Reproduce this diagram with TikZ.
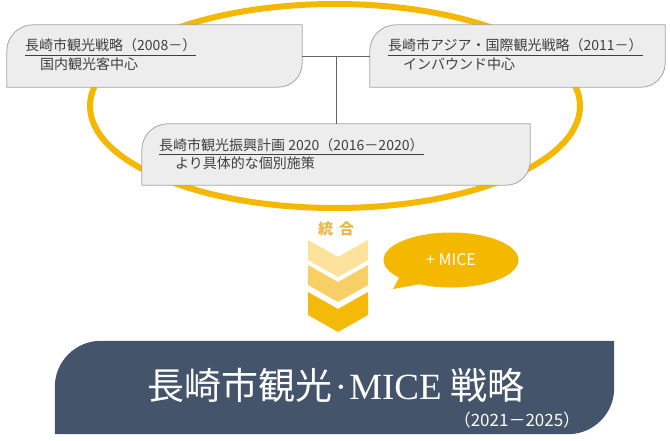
\documentclass[tikz,border=0pt]{standalone}
\usepackage{fontspec}
\newfontfamily\jp{Noto Sans CJK JP}
\newfontfamily\serifen{Liberation Serif}
\usetikzlibrary{calc,shapes.callouts}
\definecolor{gold}{HTML}{F5B800}
\definecolor{chevA}{HTML}{FCE29A}
\definecolor{chevB}{HTML}{F8CF66}
\definecolor{chevC}{HTML}{F5B90A}
\definecolor{boxfill}{HTML}{EDEDED}
\definecolor{boxline}{HTML}{A5A5A5}
\definecolor{txt}{HTML}{3F3F3F}
\definecolor{slate}{HTML}{44546A}
\definecolor{togo}{HTML}{E9B64A}
\newcommand\leafpath[4]{%
  \path[#4] (#1.south west) -- ($(#1.north west)+(0,#2)$)
    .. controls ($(#1.north west)+(0,0.45*#2)$) and ($(#1.north west)+(0.45*#2,0)$) .. ($(#1.north west)+(#2,0)$)
    -- (#1.north east) -- ($(#1.south east)+(0,-#3)$)
    .. controls ($(#1.south east)+(0,-0.45*#3)$) and ($(#1.south east)+(-0.45*#3,0)$) .. ($(#1.south east)+(-#3,0)$)
    -- cycle;}
\newcommand\chevron[3]{%
  \fill[#3] (308,#1) -- (338,#1+17) -- (368,#1) -- (368,#1+#2) -- (338,#1+#2+17) -- (308,#1+#2) -- cycle;}
\tikzset{
  boxnode/.style={rectangle, inner sep=0pt, draw=none},
  leaf/.style={fill=boxfill, draw=boxline, line width=0.8pt},
  lbl/.style={inner sep=0pt, anchor=base west, text=txt, font=\jp\fontsize{14pt}{16pt}\selectfont},
  ul/.style={draw=txt, line width=0.7pt},
  conn/.style={draw=txt!80, line width=0.8pt},
}
\begin{document}
\begin{tikzpicture}[x=1pt,y=-1pt]
\useasboundingbox (0,0) rectangle (670,440);
% ellipse
\draw[gold, line width=6pt] (335,106) ellipse [x radius=245pt, y radius=102pt];
% boxes
\node[boxnode, minimum width=295pt, minimum height=62pt] (b1) at (154.5,56) {};
\node[boxnode, minimum width=295pt, minimum height=62pt] (b2) at (517.5,56) {};
\node[boxnode, minimum width=388pt, minimum height=61pt] (b3) at (336,154.5) {};
\leafpath{b1}{26}{24}{leaf}
\leafpath{b2}{26}{24}{leaf}
\leafpath{b3}{26}{24}{leaf}
% connectors
\coordinate (j) at ($(b1.east)!0.5!(b2.west)$);
\draw[conn] (b1.east) -- (b2.west);
\draw[conn] (j) -- (j |- b3.north);
% texts
\node[lbl] (t1a) at (25,50.5) {長崎市観光戦略（2008－）};
\draw[ul] ($(t1a.base west)+(0,5)$) -- ($(t1a.base east)+(0,5)$);
\node[lbl] (t1b) at (40,69.5) {国内観光客中心};
\node[lbl] (t2a) at (388,50.5) {長崎市アジア・国際観光戦略（2011－）};
\draw[ul] ($(t2a.base west)+(0,5)$) -- ($(t2a.base east)+(0,5)$);
\node[lbl] (t2b) at (403,69.5) {インバウンド中心};
\node[lbl] (t3a) at (159,150) {長崎市観光振興計画 2020（2016－2020）};
\draw[ul] ($(t3a.base west)+(0,4)$) -- ($(t3a.base east)+(0,4)$);
\node[lbl] (t3b) at (175,168.5) {より具体的な個別施策};
% integration
\node[text=togo, font=\jp\bfseries\fontsize{15pt}{17pt}\selectfont, inner sep=0pt] (togo) at (336,229) {統\hspace{6pt}合};
\chevron{240}{20}{chevA}
\chevron{265}{20}{chevB}
\chevron{292}{23}{chevC}
% bubble
\node[ellipse callout, fill=gold, minimum width=135pt, minimum height=55pt,
      callout absolute pointer={(393,289)}, callout pointer arc=22,
      text=white, font=\jp\fontsize{16pt}{18pt}\selectfont] (mice) at (451,260) {+ MICE};
% main box
\node[boxnode, minimum width=559pt, minimum height=93pt] (mb) at (334.5,387.5) {};
\leafpath{mb}{46}{46}{fill=slate}
\node[text=white, inner sep=0pt, font=\jp\fontsize{37pt}{42pt}\selectfont] (title) at (336,385)
  {長崎市観光{\serifen\hspace{2pt}·\hspace{2pt}MICE} 戦略};
\node[text=white, inner sep=0pt, font=\jp\fontsize{17pt}{19pt}\selectfont] (years) at (517,420) {（2021－2025）};
\end{tikzpicture}
\end{document}
